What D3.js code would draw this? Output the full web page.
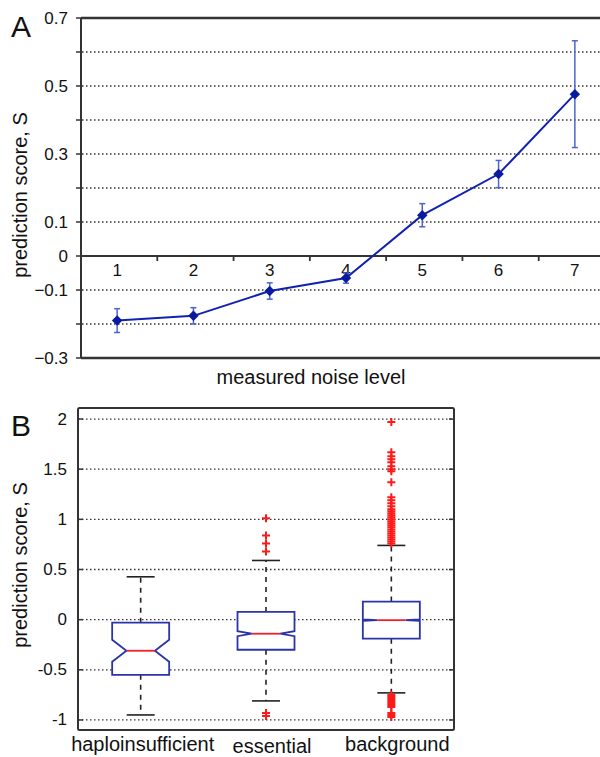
<!DOCTYPE html>
<html>
<head>
<meta charset="utf-8">
<script src="https://cdn.jsdelivr.net/npm/d3@7"></script>
<style>
  body { margin: 0; background: #fff; }
  svg { display: block; font-family: "Liberation Sans", Arial, sans-serif; }
</style>
</head>
<body>
<div id="chart"></div>
<script>
// Panel A data
const noiseLevels = [1, 2, 3, 4, 5, 6, 7];
const meanScore = [-0.19, -0.176, -0.103, -0.065, 0.12, 0.241, 0.476];
const errScore = [0.035, 0.024, 0.024, 0.015, 0.034, 0.04, 0.157];
const yTicksA = [-0.3, -0.2, -0.1, 0, 0.1, 0.2, 0.3, 0.4, 0.5, 0.6, 0.7];
const yLabelsA = [-0.3, -0.1, 0, 0.1, 0.3, 0.5, 0.7];

// Panel B data
const groups = ['haploinsufficient', 'essential', 'background'];
const whiskerHigh = [0.427, 0.59, 0.74];
const upperQ = [-0.03, 0.077, 0.18];
const medians = [-0.31, -0.14, -0.005];
const lowerQ = [-0.55, -0.30, -0.19];
const whiskerLow = [-0.95, -0.81, -0.73];
const notchHalf = [0.11, 0.025, 0.008];
const outliers = [
  [],
  [1.01, 0.84, 0.76, 0.68, -0.93, -0.96],
  [1.97, 1.67, 1.63, 1.6, 1.57, 1.53, 1.5, 1.48, 1.37,
   1.22, 1.19, 1.16, 1.13, 1.1, 1.08, 1.06, 1.04, 1.02, 1.0, 0.98, 0.96, 0.94,
   0.92, 0.9, 0.88, 0.86, 0.84, 0.82, 0.8, 0.78, 0.76,
   -0.75, -0.77, -0.79, -0.81, -0.83, -0.85, -0.87, -0.93, -0.95, -0.97]
];
const yTicksB = [-1, -0.5, 0, 0.5, 1, 1.5, 2];

const svg = d3.select('#chart').append('svg')
  .attr('width', 600)
  .attr('height', 757);

const ink = '#333';
const tickFont = 17;
const labelFont = 20;

// ---------- Panel A ----------
const xA = d3.scaleBand().domain(noiseLevels).range([81, 615]);
const yA = d3.scaleLinear().domain([-0.3, 0.7]).range([358, 18]);

const gA = svg.append('g');

// dotted grid
gA.selectAll('line.grid')
  .data(yTicksA.filter(d => d !== 0 && d !== 0.7 && d !== -0.3))
  .enter().append('line')
  .attr('class', 'grid')
  .attr('x1', 82).attr('x2', 600)
  .attr('y1', d => yA(d)).attr('y2', d => yA(d))
  .attr('stroke', ink).attr('stroke-width', 1.3)
  .attr('stroke-dasharray', '1.5,2.5');

// left ticks
gA.selectAll('line.ytick')
  .data(yTicksA)
  .enter().append('line')
  .attr('x1', 76).attr('x2', 81)
  .attr('y1', d => yA(d)).attr('y2', d => yA(d))
  .attr('stroke', ink).attr('stroke-width', 1.5);

gA.selectAll('text.ylab')
  .data(yLabelsA)
  .enter().append('text')
  .attr('x', 68)
  .attr('y', d => yA(d))
  .attr('text-anchor', 'end')
  .attr('dominant-baseline', 'central')
  .attr('font-size', tickFont)
  .attr('fill', '#111')
  .text(d => d === 0 ? '0' : d3.format('.1f')(d));

// frame lines
gA.append('line').attr('x1', 81).attr('x2', 600).attr('y1', yA(0.7)).attr('y2', yA(0.7))
  .attr('stroke', ink).attr('stroke-width', 2.5);
gA.append('line').attr('x1', 81).attr('x2', 600).attr('y1', yA(-0.3)).attr('y2', yA(-0.3))
  .attr('stroke', ink).attr('stroke-width', 2.5);
gA.append('line').attr('x1', 81).attr('x2', 81).attr('y1', yA(0.7)).attr('y2', yA(-0.3))
  .attr('stroke', ink).attr('stroke-width', 2);
gA.append('line').attr('x1', 81).attr('x2', 600).attr('y1', yA(0)).attr('y2', yA(0))
  .attr('stroke', ink).attr('stroke-width', 1.8);

// x ticks at band boundaries
gA.selectAll('line.xtick')
  .data(noiseLevels.slice(1))
  .enter().append('line')
  .attr('x1', d => xA(d)).attr('x2', d => xA(d))
  .attr('y1', yA(0)).attr('y2', yA(0) + 5)
  .attr('stroke', ink).attr('stroke-width', 1.8);

gA.selectAll('text.xlab')
  .data(noiseLevels)
  .enter().append('text')
  .attr('x', d => xA(d) + xA.bandwidth() / 2 - 2)
  .attr('y', yA(0) + 14)
  .attr('text-anchor', 'middle')
  .attr('dominant-baseline', 'central')
  .attr('font-size', tickFont)
  .attr('fill', '#111')
  .text(d => d);

// error bars
const cx = d => xA(d) + xA.bandwidth() / 2 - 2;
const errG = gA.selectAll('g.err')
  .data(noiseLevels)
  .enter().append('g');
errG.append('line')
  .attr('x1', d => cx(d)).attr('x2', d => cx(d))
  .attr('y1', (d, i) => yA(meanScore[i] + errScore[i]))
  .attr('y2', (d, i) => yA(meanScore[i] - errScore[i]))
  .attr('stroke', '#4a66cc').attr('stroke-width', 1.5);
[1, -1].forEach(s => {
  errG.append('line')
    .attr('x1', d => cx(d) - 3).attr('x2', d => cx(d) + 3)
    .attr('y1', (d, i) => yA(meanScore[i] + s * errScore[i]))
    .attr('y2', (d, i) => yA(meanScore[i] + s * errScore[i]))
    .attr('stroke', '#4a66cc').attr('stroke-width', 1.5);
});

// line
gA.append('path')
  .datum(noiseLevels)
  .attr('d', d3.line().x(d => cx(d)).y((d, i) => yA(meanScore[i])))
  .attr('fill', 'none')
  .attr('stroke', '#1022b0')
  .attr('stroke-width', 2);

gA.selectAll('path.pt')
  .data(noiseLevels)
  .enter().append('path')
  .attr('transform', (d, i) => `translate(${cx(d)},${yA(meanScore[i])})`)
  .attr('d', d3.symbol(d3.symbolDiamond2, 70))
  .attr('fill', '#0a1aa0');

gA.append('text')
  .attr('x', 311).attr('y', 377)
  .attr('text-anchor', 'middle').attr('dominant-baseline', 'central')
  .attr('font-size', labelFont).attr('fill', '#111')
  .text('measured noise level');

gA.append('text')
  .attr('transform', 'translate(20,195) rotate(-90)')
  .attr('text-anchor', 'middle').attr('dominant-baseline', 'central')
  .attr('font-size', labelFont).attr('fill', '#111')
  .text('prediction score, S');

svg.append('text')
  .attr('x', 11).attr('y', 37)
  .attr('font-size', 30).attr('fill', '#111')
  .text('A');

// ---------- Panel B ----------
const xB = d3.scaleBand().domain(groups).range([78, 454]);
const yB = d3.scaleLinear().domain([-1.1, 2.11]).range([730, 408]);
const gB = svg.append('g');

gB.selectAll('line.grid')
  .data(yTicksB)
  .enter().append('line')
  .attr('x1', 78).attr('x2', 454)
  .attr('y1', d => yB(d)).attr('y2', d => yB(d))
  .attr('stroke', ink).attr('stroke-width', 1.3)
  .attr('stroke-dasharray', '1.5,2.5');

// inner ticks on both sides
[[78, 83], [449, 454]].forEach(([a, b]) => {
  gB.selectAll(null)
    .data(yTicksB)
    .enter().append('line')
    .attr('x1', a).attr('x2', b)
    .attr('y1', d => yB(d)).attr('y2', d => yB(d))
    .attr('stroke', ink).attr('stroke-width', 1.5);
});

gB.append('rect')
  .attr('x', 78).attr('y', 408)
  .attr('width', 376).attr('height', 322)
  .attr('rx', 1.5)
  .attr('fill', 'none').attr('stroke', ink).attr('stroke-width', 2);

gB.selectAll('text.ylab')
  .data(yTicksB)
  .enter().append('text')
  .attr('x', 67)
  .attr('y', d => yB(d))
  .attr('text-anchor', 'end')
  .attr('dominant-baseline', 'central')
  .attr('font-size', tickFont)
  .attr('fill', '#111')
  .text(d => d);

const boxW = 57;
const mid = g => xB(g) + xB.bandwidth() / 2;

groups.forEach((g, i) => {
  const c = mid(g);
  const x0 = c - boxW / 2, x1 = c + boxW / 2, ins = boxW / 4;
  // whiskers
  [[upperQ[i], whiskerHigh[i]], [lowerQ[i], whiskerLow[i]]].forEach(([a, b]) => {
    gB.append('line')
      .attr('x1', c).attr('x2', c)
      .attr('y1', yB(a)).attr('y2', yB(b))
      .attr('stroke', '#222').attr('stroke-width', 1.6)
      .attr('stroke-dasharray', '5,5');
    gB.append('line')
      .attr('x1', c - 14).attr('x2', c + 14)
      .attr('y1', yB(b)).attr('y2', yB(b))
      .attr('stroke', '#222').attr('stroke-width', 1.6);
  });
  // notched box
  const hi = yB(medians[i] + notchHalf[i]);
  const lo = yB(medians[i] - notchHalf[i]);
  const m = yB(medians[i]);
  const pts = [
    [x0, yB(upperQ[i])], [x1, yB(upperQ[i])], [x1, hi], [x1 - ins, m], [x1, lo],
    [x1, yB(lowerQ[i])], [x0, yB(lowerQ[i])], [x0, lo], [x0 + ins, m], [x0, hi]
  ];
  gB.append('path')
    .attr('d', d3.line()(pts) + 'Z')
    .attr('fill', '#fff')
    .attr('stroke', '#2a34a8').attr('stroke-width', 1.8);
  gB.append('line')
    .attr('x1', x0 + ins).attr('x2', x1 - ins)
    .attr('y1', m).attr('y2', m)
    .attr('stroke', '#f0202a').attr('stroke-width', 1.8);
  // outliers
  gB.selectAll(null)
    .data(outliers[i])
    .enter().append('path')
    .attr('transform', d => `translate(${c},${yB(d)})`)
    .attr('d', 'M-4,0H4M0,-4V4')
    .attr('stroke', '#ff1a1a').attr('stroke-width', 2);

  gB.append('text')
    .attr('x', c + (i === 0 ? 2 : 6))
    .attr('y', i === 1 ? 746 : 744)
    .attr('text-anchor', 'middle').attr('dominant-baseline', 'central')
    .attr('font-size', labelFont).attr('fill', '#111')
    .text(g);
});

gB.append('text')
  .attr('transform', 'translate(20,565) rotate(-90)')
  .attr('text-anchor', 'middle').attr('dominant-baseline', 'central')
  .attr('font-size', labelFont).attr('fill', '#111')
  .text('prediction score, S');

svg.append('text')
  .attr('x', 11).attr('y', 436)
  .attr('font-size', 30).attr('fill', '#111')
  .text('B');
</script>
</body>
</html>
